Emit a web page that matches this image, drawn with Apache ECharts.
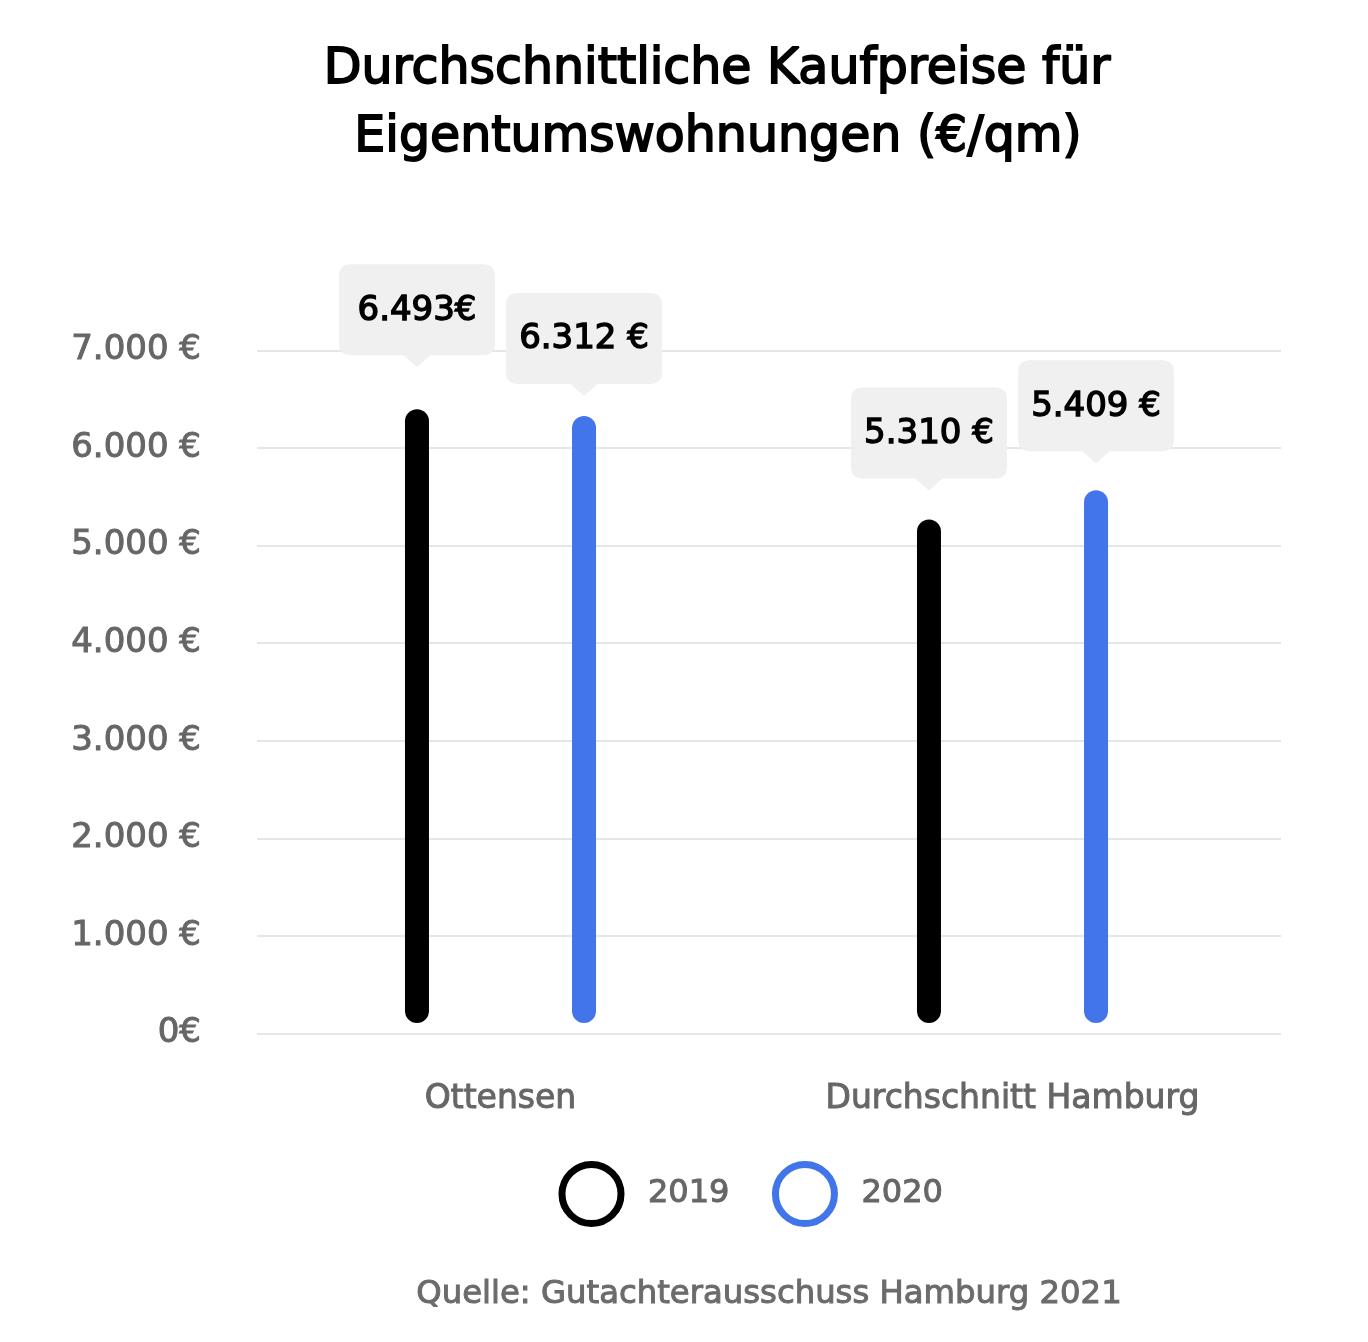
<!DOCTYPE html>
<html>
<head>
<meta charset="utf-8">
<script src="https://cdn.jsdelivr.net/npm/echarts@6/dist/echarts.min.js"></script>
<style>
  html, body { margin: 0; padding: 0; background: #ffffff; }
  #chart { width: 1368px; height: 1342px; }
</style>
</head>
<body>
<div id="chart"></div>
<script>
// ---- data ----
const categories = ['Ottensen', 'Durchschnitt Hamburg'];
const seriesNames = ['2019', '2020'];
const values2019 = [6290, 5160];
const values2020 = [6220, 5460];
const labels2019 = ['6.493€', '5.310 €'];
const labels2020 = ['6.312 €', '5.409 €'];
const yTickLabels = ['0€', '1.000 €', '2.000 €', '3.000 €', '4.000 €', '5.000 €', '6.000 €', '7.000 €'];
const titleLines = ['Durchschnittliche Kaufpreise für', 'Eigentumswohnungen (€/qm)'];
const sourceText = 'Quelle: Gutachterausschuss Hamburg 2021';

// ---- style ----
const FONT = '"DejaVu Sans"';
const GRAY = '#666666';
const gaps2019 = [42, 29];
const gaps2020 = [20, 27];
const colors = ['#000000', '#4274ea'];
const calloutPath = 'path://M12,0 H144 Q156,0 156,12 V79 Q156,91 144,91 H91.5 L78,103 L64.5,91 H12 Q0,91 0,79 V12 Q0,0 12,0 Z';

function callouts(values, labels, gaps) {
  return {
    symbol: calloutPath,
    symbolSize: [156, 103],
    symbolKeepAspect: false,
    silent: true,
    animation: false,
    itemStyle: { color: '#f0f0f0' },
    label: {
      show: true,
      position: 'inside',
      offset: [0, -5],
      color: '#000000',
      fontFamily: FONT,
      fontSize: 34,
      textBorderColor: '#000000',
      textBorderWidth: 1.4,
      formatter: p => p.name
    },
    data: categories.map((c, i) => ({
      name: labels[i],
      coord: [c, values[i]],
      symbolOffset: [0, -(gaps[i] + 51.5)]
    }))
  };
}

const chart = echarts.init(document.getElementById('chart'), null, { renderer: 'canvas' });
chart.setOption({
  animation: false,
  backgroundColor: '#ffffff',
  grid: [
    { left: 257, right: 87, top: 350.5, bottom: 308.5, containLabel: false },
    { left: 244.5, width: 1024, top: 340, bottom: 319, containLabel: false }
  ],
  xAxis: [
    { gridIndex: 0, type: 'category', data: categories, show: false },
    {
      gridIndex: 1, type: 'category', data: categories,
      axisLine: { show: false }, axisTick: { show: false },
      axisLabel: {
        color: GRAY, fontFamily: FONT, fontSize: 33, margin: 60,
        textBorderColor: GRAY, textBorderWidth: 1
      }
    }
  ],
  yAxis: [
    {
      gridIndex: 0, type: 'value', min: 0, max: 7000, interval: 1000,
      axisLine: { show: false }, axisTick: { show: false },
      axisLabel: {
        color: GRAY, fontFamily: FONT, fontSize: 34, margin: 56,
        textBorderColor: GRAY, textBorderWidth: 1,
        formatter: v => yTickLabels[Math.round(v / 1000)]
      },
      splitLine: { lineStyle: { color: '#e6e6e6', width: 2 } }
    },
    { gridIndex: 1, type: 'value', min: 0, max: 7000, interval: 1000, show: false, splitLine: { show: false } }
  ],
  legend: {
    data: [
      { name: seriesNames[0], itemStyle: { color: 'rgba(0,0,0,0)', borderColor: colors[0], borderWidth: 7 } },
      { name: seriesNames[1], itemStyle: { color: 'rgba(0,0,0,0)', borderColor: colors[1], borderWidth: 7 } }
    ],
    icon: 'circle',
    left: 558.5,
    top: 1161,
    padding: 0,
    itemWidth: 59,
    itemHeight: 59,
    itemGap: 42,
    selectedMode: false,
    textStyle: {
      color: GRAY, fontFamily: FONT, fontSize: 32, padding: [4, 0, 0, 22],
      textBorderColor: GRAY, textBorderWidth: 1
    }
  },
  graphic: [
    {
      type: 'text', x: 717, y: 70,
      style: {
        text: titleLines[0], align: 'center', verticalAlign: 'middle', fill: '#000000',
        font: '49px ' + FONT, stroke: '#000000', lineWidth: 1.8
      }
    },
    {
      type: 'text', x: 718, y: 138,
      style: {
        text: titleLines[1], align: 'center', verticalAlign: 'middle', fill: '#000000',
        font: '49px ' + FONT, stroke: '#000000', lineWidth: 1.8
      }
    },
    {
      type: 'text', x: 769, y: 1295,
      style: {
        text: sourceText, align: 'center', verticalAlign: 'middle', fill: '#6b6b6b',
        font: '32.3px ' + FONT, stroke: '#6b6b6b', lineWidth: 1
      }
    }
  ],
  series: [
    {
      name: seriesNames[0], type: 'bar', xAxisIndex: 1, yAxisIndex: 1,
      data: values2019, barWidth: 24, barGap: '596%',
      itemStyle: { color: colors[0], borderRadius: 12 },
      markPoint: callouts(values2019, labels2019, gaps2019)
    },
    {
      name: seriesNames[1], type: 'bar', xAxisIndex: 1, yAxisIndex: 1,
      data: values2020, barWidth: 24, barGap: '596%',
      itemStyle: { color: colors[1], borderRadius: 12 },
      markPoint: callouts(values2020, labels2020, gaps2020)
    }
  ]
});
</script>
</body>
</html>
